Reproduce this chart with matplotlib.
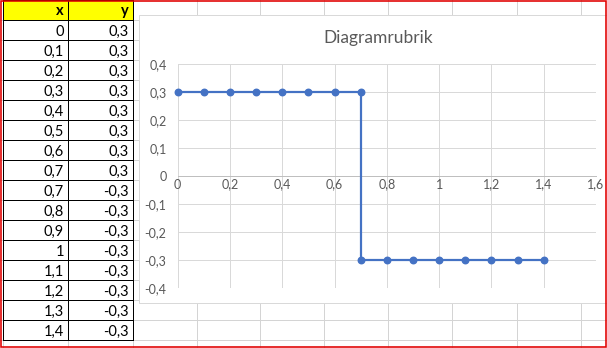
import matplotlib
matplotlib.use('Agg')
import matplotlib.pyplot as plt
from matplotlib.patches import Rectangle
from matplotlib.ticker import FuncFormatter, MultipleLocator

xs = [0, 0.1, 0.2, 0.3, 0.4, 0.5, 0.6, 0.7, 0.7, 0.8, 0.9, 1, 1.1, 1.2, 1.3, 1.4]
ys = [0.3, 0.3, 0.3, 0.3, 0.3, 0.3, 0.3, 0.3, -0.3, -0.3, -0.3, -0.3, -0.3, -0.3, -0.3, -0.3]
headers = ["x", "y"]
title = "Diagramrubrik"

W, H = 607, 348
PX = 0.72  # one pixel in points at dpi 100


def comma(v):
    v = round(v, 2)
    if v == 0:
        return "0"
    return f"{v:g}".replace(".", ",")


plt.rcParams['font.family'] = ['Lato', 'DejaVu Sans']
fig = plt.figure(figsize=(W / 100, H / 100), dpi=100)

# spreadsheet background, in pixel coordinates
bg = fig.add_axes([0, 0, 1, 1])
bg.set_xlim(0, W)
bg.set_ylim(H, 0)
bg.axis('off')

grid_c = '#d4d4d4'
row_h = 20
col_x = [3, 68, 133, 197, 260, 324, 388, 452, 517, 581]
for x in col_x:
    bg.plot([x, x], [0, H], color=grid_c, lw=PX, zorder=1)
for k in range(1, 18):
    bg.plot([0, W], [k * row_h, k * row_h], color=grid_c, lw=PX, zorder=1)

# table
left, mid, right = 3, 68, 133
bg.add_patch(Rectangle((left, 0), right - left, row_h, facecolor='#ffff00',
                       edgecolor='none', zorder=2))
bg.add_patch(Rectangle((left, row_h), right - left, row_h * len(xs), facecolor='white',
                       edgecolor='none', zorder=2))
n_rows = len(xs) + 1
for k in range(n_rows + 1):
    bg.plot([left, right], [k * row_h, k * row_h], color='black', lw=PX, zorder=3)
for x in (left, mid, right):
    bg.plot([x, x], [0, n_rows * row_h], color='black', lw=PX, zorder=3)

bg.text(mid - 4, row_h / 2 + 1.2, headers[0], ha='right', va='center', fontsize=10.5,
        fontweight='bold', zorder=4)
bg.text(right - 4, row_h / 2 + 1.2, headers[1], ha='right', va='center', fontsize=10.5,
        fontweight='bold', zorder=4)
for i, (xv, yv) in enumerate(zip(xs, ys)):
    yc = (i + 1.5) * row_h + 1.5
    bg.text(mid - 4, yc, comma(xv), ha='right', va='center', fontsize=10.5, zorder=4)
    bg.text(right - 4, yc, comma(yv), ha='right', va='center', fontsize=10.5, zorder=4)

# chart box
bg.add_patch(Rectangle((139, 15), 480, 288, facecolor='white', edgecolor='#d9d9d9',
                       lw=PX, zorder=5))
bg.text(378, 38, title, ha='center', va='center', fontsize=12.5, color='#595959', zorder=6)

# red frame
bg.add_patch(Rectangle((0.8, 0.8), W - 1.6, H - 1.6, facecolor='none', edgecolor='#e00000',
                       lw=1.6 * PX, zorder=10))

# plot area
pl, pr, pt, pb = 177.7, 596, 64, 287.7
ax = fig.add_axes([pl / W, 1 - pb / H, (pr - pl) / W, (pb - pt) / H])
ax.set_facecolor('none')
ax.plot(xs, ys, color='#4472c4', lw=2.2 * PX, marker='o', markersize=6.5 * PX,
        zorder=3, clip_on=False)
ax.set_xlim(0, 1.6)
ax.set_ylim(-0.4, 0.4)
ax.xaxis.set_major_locator(MultipleLocator(0.2))
ax.yaxis.set_major_locator(MultipleLocator(0.1))
ax.xaxis.set_major_formatter(FuncFormatter(lambda v, p: comma(v)))
ax.yaxis.set_major_formatter(FuncFormatter(lambda v, p: comma(v)))
ax.grid(True, color='#d9d9d9', lw=PX)
ax.set_axisbelow(True)
for s in ('left', 'right', 'top'):
    ax.spines[s].set_visible(False)
ax.spines['bottom'].set_position(('data', 0))
ax.spines['bottom'].set_color('#bfbfbf')
ax.spines['bottom'].set_linewidth(PX)
ax.tick_params(axis='both', length=0, labelsize=9, labelcolor='#595959')
ax.tick_params(axis='y', pad=8)
ax.tick_params(axis='x', pad=2)

fig.savefig('out.png', dpi=100)
